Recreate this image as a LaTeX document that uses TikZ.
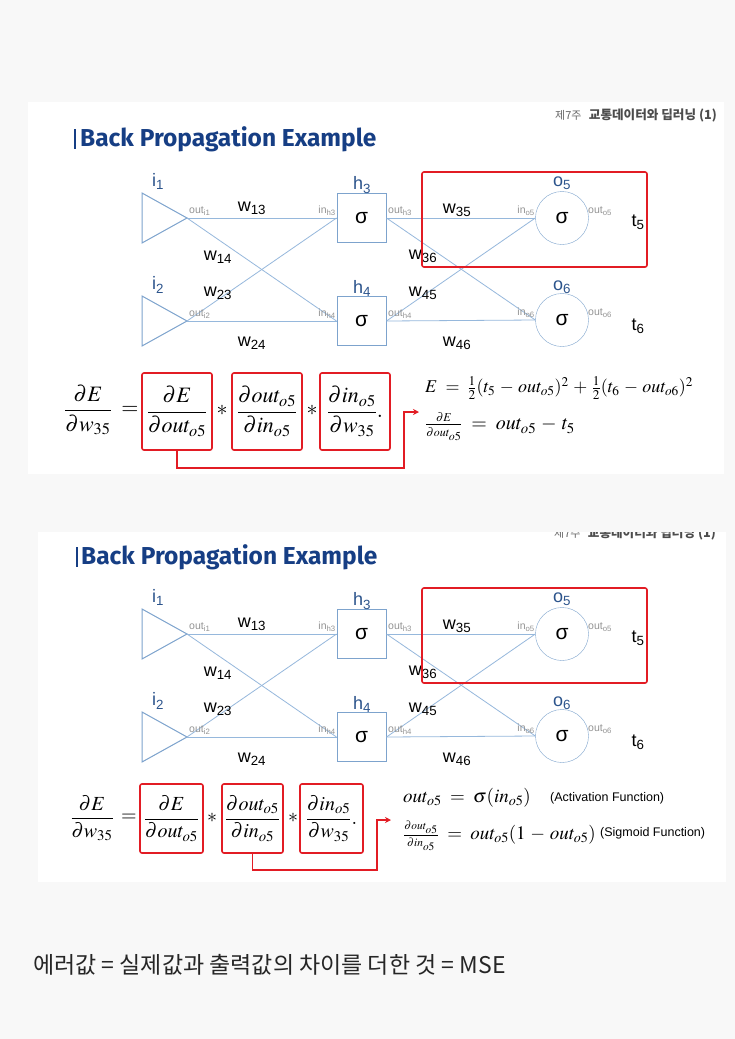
\documentclass[tikz,border=0pt]{standalone}
\usepackage{amsmath}
\usepackage{mathptmx}
\usepackage[no-math]{fontspec}
\setmainfont{Liberation Sans}
\newfontfamily\krfont{Noto Sans CJK KR}
\newfontfamily\titlefont{Fira Sans}
\usetikzlibrary{arrows.meta, positioning, calc}
\definecolor{pagebg}{RGB}{248,248,248}
\definecolor{titleblue}{RGB}{22,62,132}
\definecolor{labelblue}{RGB}{44,84,140}
\definecolor{linkblue}{RGB}{150,184,220}
\definecolor{nodeblue}{RGB}{125,163,205}
\definecolor{hlred}{RGB}{226,28,36}

\begin{document}
\begin{tikzpicture}[x=1pt, y=-1pt,
    link/.style={draw=linkblue, line width=0.8pt},
    intri/.style={draw=nodeblue, line width=1pt},
    hidbox/.style={draw=nodeblue, fill=white, line width=1pt, minimum size=49pt, inner sep=0pt, font=\fontsize{21}{24}\selectfont},
    outcirc/.style={draw=nodeblue, fill=white, circle, minimum size=53pt, inner sep=0pt, font=\fontsize{21}{24}\selectfont},
    nlabel/.style={text=labelblue, font=\fontsize{18}{20}\selectfont, inner sep=0pt},
    wlabel/.style={font=\fontsize{18}{20}\selectfont, inner sep=0pt},
    glabel/.style={text=black!42, font=\fontsize{10.5}{12}\selectfont, inner sep=0pt},
    redframe/.style={draw=hlred, line width=1.6pt, rounded corners=2pt},
    redfrac/.style={redframe, inner sep=0pt},
    eqtext/.style={inner sep=0pt},
    redarrow/.style={draw=hlred, line width=1.4pt, -{Stealth[length=6pt, width=6pt]}},
    titletxt/.style={text=titleblue, font=\titlefont\bfseries\fontsize{24.5}{28}\selectfont, inner sep=0pt},
    hdcourse/.style={text=black!70, font=\krfont\bfseries\fontsize{12.6}{14}\selectfont, inner sep=0pt},
    hdweek/.style={text=black!60, font=\krfont\fontsize{11}{13}\selectfont, inner sep=0pt},
    fnote/.style={inner sep=0pt, font=\fontsize{12.5}{14}\selectfont}]
    \useasboundingbox (0,0) rectangle (735,1039);
    \fill[pagebg] (0,0) rectangle (735,1039);
    % two slide panels
    \fill[white] (28,102) rectangle (724,474);
    \fill[white] (38,532) rectangle (726,882);

    % headers and titles
    \node[hdcourse, anchor=east] (hd1) at (717,115) {교통데이터와 딥러닝 (1)};
    \node[hdweek, left=7pt of hd1] (wk1) {제7주};
    \begin{scope}
        \clip (38,532) rectangle (726,882);
        \node[hdcourse, anchor=east] (hd2) at (716,533) {교통데이터와 딥러닝 (1)};
        \node[hdweek, left=7pt of hd2] (wk2) {제7주};
    \end{scope}
    \node[titletxt, anchor=west] (ttl1) at (80,139) {Back Propagation Example};
    \draw[titleblue, line width=1.2pt] (75,129) -- (75,149);
    \node[titletxt, anchor=west] (ttl2) at (81,557) {Back Propagation Example};
    \draw[titleblue, line width=1.2pt] (77,547) -- (77,567);

    % the network, once per slide
    \foreach \yo/\sl in {0/a, 416/b}
    {
    \begin{scope}[shift={(0,\yo)}, name prefix=\sl-]
        \coordinate (i1) at (187,218);
        \coordinate (i2) at (187,321);
        \draw[intri] (142,193) -- (i1) -- (142,243) -- cycle;
        \draw[intri] (142,296) -- (i2) -- (142,346) -- cycle;
        \node[hidbox] (h3) at (361.5,218) {σ};
        \node[hidbox] (h4) at (361.5,321) {σ};
        \node[outcirc] (o5) at (562,218) {σ};
        \node[outcirc] (o6) at (562,320) {σ};
        \foreach \a/\b in {i1/h3, i1/h4, i2/h3, i2/h4}
            \draw[link] (\a) -- (\b.west);
        \foreach \a/\b in {h3/o5, h3/o6, h4/o5, h4/o6}
            \draw[link] (\a.east) -- (\b.west);
        % node names
        \node[nlabel] at (158,181) {i\textsubscript{1}};
        \node[nlabel] at (158,285) {i\textsubscript{2}};
        \node[nlabel] at (362,185) {h\textsubscript{3}};
        \node[nlabel] at (362,288) {h\textsubscript{4}};
        \node[nlabel] at (562,183) {o\textsubscript{5}};
        \node[nlabel] at (562,287) {o\textsubscript{6}};
        \node[wlabel] at (638,222) {t\textsubscript{5}};
        \node[wlabel] at (638,326) {t\textsubscript{6}};
        % weights
        \foreach \px/\py/\w in {252/208/13, 218/257/14, 218/293/23, 252/343/24,
                                457/210/35, 423/256/36, 423/293/45, 457/343/46}
            \node[wlabel] at (\px,\py) {w\textsubscript{\w}};
        % in / out tags
        \node[glabel, anchor=west] at (189,211) {out\textsubscript{i1}};
        \node[glabel, anchor=west] at (189,314) {out\textsubscript{i2}};
        \node[glabel, anchor=east] at (336,211) {in\textsubscript{h3}};
        \node[glabel, anchor=east] at (336,314) {in\textsubscript{h4}};
        \node[glabel, anchor=west] at (388,211) {out\textsubscript{h3}};
        \node[glabel, anchor=west] at (388,314) {out\textsubscript{h4}};
        \node[glabel, anchor=east] at (535,211) {in\textsubscript{o5}};
        \node[glabel, anchor=east] at (535,313) {in\textsubscript{o6}};
        \node[glabel, anchor=west] at (588,211) {out\textsubscript{o5}};
        \node[glabel, anchor=west] at (588,313) {out\textsubscript{o6}};
        \draw[redframe] (422,172) rectangle (647,267);
    \end{scope}
    }

    % slide 1: chain rule
    \begin{scope}[font=\fontsize{22}{26}\selectfont]
        \node[eqtext] (lhs1) at (88,410) {$\dfrac{\partial E}{\partial w_{35}}$};
        \node[eqtext] (eqs1) at (130,410) {$=$};
        \node[redfrac, minimum width=70pt, minimum height=77pt] (f11) at (177,411.5) {$\dfrac{\partial E}{\partial out_{o5}}$};
        \node[eqtext] (st11) at (222,410) {$*$};
        \node[redfrac, minimum width=70pt, minimum height=77pt] (f12) at (267,411.5) {$\dfrac{\partial out_{o5}}{\partial in_{o5}}$};
        \node[eqtext] (st12) at (312,410) {$*$};
        \node[redfrac, minimum width=70pt, minimum height=77pt] (f13) at (355,411.5) {$\dfrac{\partial in_{o5}}{\partial w_{35}}.$};
    \end{scope}
    \node[eqtext, anchor=west, font=\fontsize{18}{21}\selectfont] (err1) at (425,388)
        {$E \;=\; \tfrac{1}{2}(t_5 \,-\, out_{o5})^2 \,+\, \tfrac{1}{2}(t_6 \,-\, out_{o6})^2$};
    \node[eqtext, anchor=west, font=\fontsize{20}{24}\selectfont] (der1) at (425,427)
        {$\frac{\scriptscriptstyle\partial E}{\scriptscriptstyle\partial out_{o5}} \;=\; out_{o5} \,-\, t_5$};
    \coordinate (tip1) at (419,412);
    \draw[redarrow] (f11.south) -- ++(0,17) -| ($(tip1)+(-15,0)$) -- (tip1);

    % slide 2: chain rule
    \begin{scope}[font=\fontsize{20}{24}\selectfont]
        \node[eqtext] (lhs2) at (92,818) {$\dfrac{\partial E}{\partial w_{35}}$};
        \node[eqtext] (eqs2) at (129,818) {$=$};
        \node[redfrac, minimum width=63pt, minimum height=69pt] (f21) at (171.5,818.5) {$\dfrac{\partial E}{\partial out_{o5}}$};
        \node[eqtext] (st21) at (212,818) {$*$};
        \node[redfrac, minimum width=61pt, minimum height=69pt] (f22) at (252.5,818.5) {$\dfrac{\partial out_{o5}}{\partial in_{o5}}$};
        \node[eqtext] (st22) at (293,818) {$*$};
        \node[redfrac, minimum width=63pt, minimum height=69pt] (f23) at (331.5,818.5) {$\dfrac{\partial in_{o5}}{\partial w_{35}}.$};
    \end{scope}
    \node[eqtext, anchor=west, font=\fontsize{19}{22}\selectfont] (act2) at (403,798)
        {$out_{o5} \;=\; \sigma(in_{o5})$};
    \node[fnote, anchor=west] (actn) at (550,798) {(Activation Function)};
    \node[eqtext, anchor=west, font=\fontsize{19}{22}\selectfont] (der2) at (403,836)
        {$\frac{\scriptscriptstyle\partial out_{o5}}{\scriptscriptstyle\partial in_{o5}} \;=\; out_{o5}(1 \,-\, out_{o5})$};
    \node[fnote, anchor=west] (sgmn) at (600,833) {(Sigmoid Function)};
    \coordinate (tip2) at (391,820);
    \draw[redarrow] (f22.south) -- ++(0,16) -| ($(tip2)+(-14,0)$) -- (tip2);

    % note under the slides
    \node[anchor=west, text=black!85, font=\krfont\fontsize{23}{27}\selectfont, inner sep=0pt] (note) at (33,965)
        {에러값 = 실제값과 출력값의 차이를 더한 것 = MSE};
\end{tikzpicture}
\end{document}
